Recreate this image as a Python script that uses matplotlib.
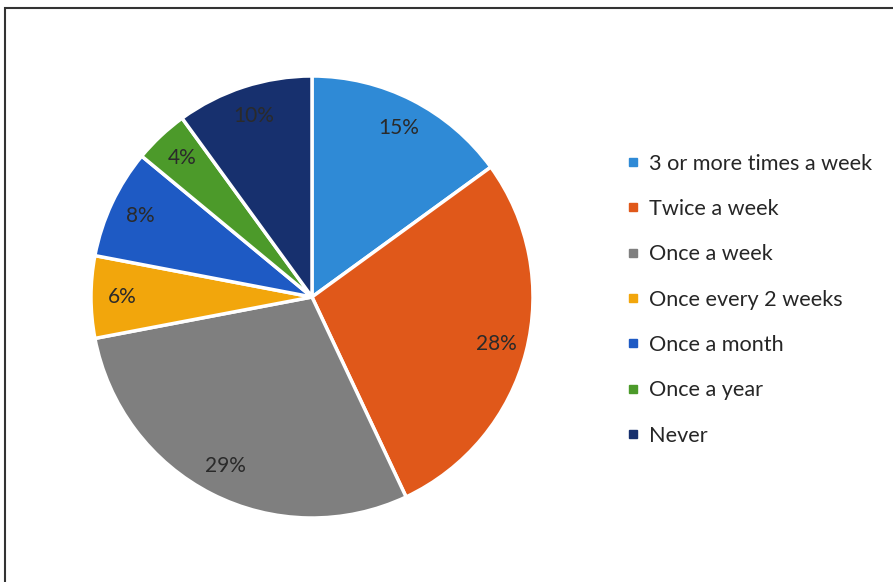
import matplotlib.pyplot as plt
from matplotlib.lines import Line2D
from matplotlib.patches import Rectangle

# Données du graphique
categories = ["3 or more times a week", "Twice a week", "Once a week",
              "Once every 2 weeks", "Once a month", "Once a year", "Never"]
values = [15, 28, 29, 6, 8, 4, 10]
colors = ["#2F8AD6", "#E0581A", "#7F7F7F", "#F2A60C", "#1E5AC4", "#4C9A2A", "#17306E"]

plt.rcParams['font.family'] = ['Lato', 'DejaVu Sans']

W, H = 893, 582
fig = plt.figure(figsize=(W / 100, H / 100), dpi=100)

# Cadre autour du graphique (scan)
fig.patches.append(Rectangle((5 / W, -0.1), 1.2, 1 - 8 / H + 0.1, transform=fig.transFigure,
                             fill=False, edgecolor="#333333", linewidth=1.5))

# Camembert
cx, cy, r = 312, 297, 221
ax = fig.add_axes([(cx - r) / W, (H - cy - r) / H, 2 * r / W, 2 * r / H])
wedges, texts, autotexts = ax.pie(values, colors=colors, startangle=90, counterclock=False,
                                  autopct=lambda p: f"{p:.0f}%", pctdistance=0.86,
                                  wedgeprops=dict(edgecolor="white", linewidth=2.5),
                                  textprops=dict(fontsize=15, color="#2a2a2a"))
ax.set_xlim(-1, 1)
ax.set_ylim(-1, 1)
ax.axis('off')

# Légende
handles = [Line2D([0], [0], marker='s', linestyle='', markersize=6,
                  markerfacecolor=c, markeredgecolor=c) for c in colors]
leg = fig.legend(handles, categories, loc='upper left',
                 bbox_to_anchor=(618 / W, 1 - 145 / H), frameon=False, borderaxespad=0,
                 fontsize=15.6, labelspacing=1.17, handlelength=0.6, handletextpad=0.45)
for t in leg.get_texts():
    t.set_color("#262626")

plt.savefig("out.png", dpi=100, facecolor="white")
